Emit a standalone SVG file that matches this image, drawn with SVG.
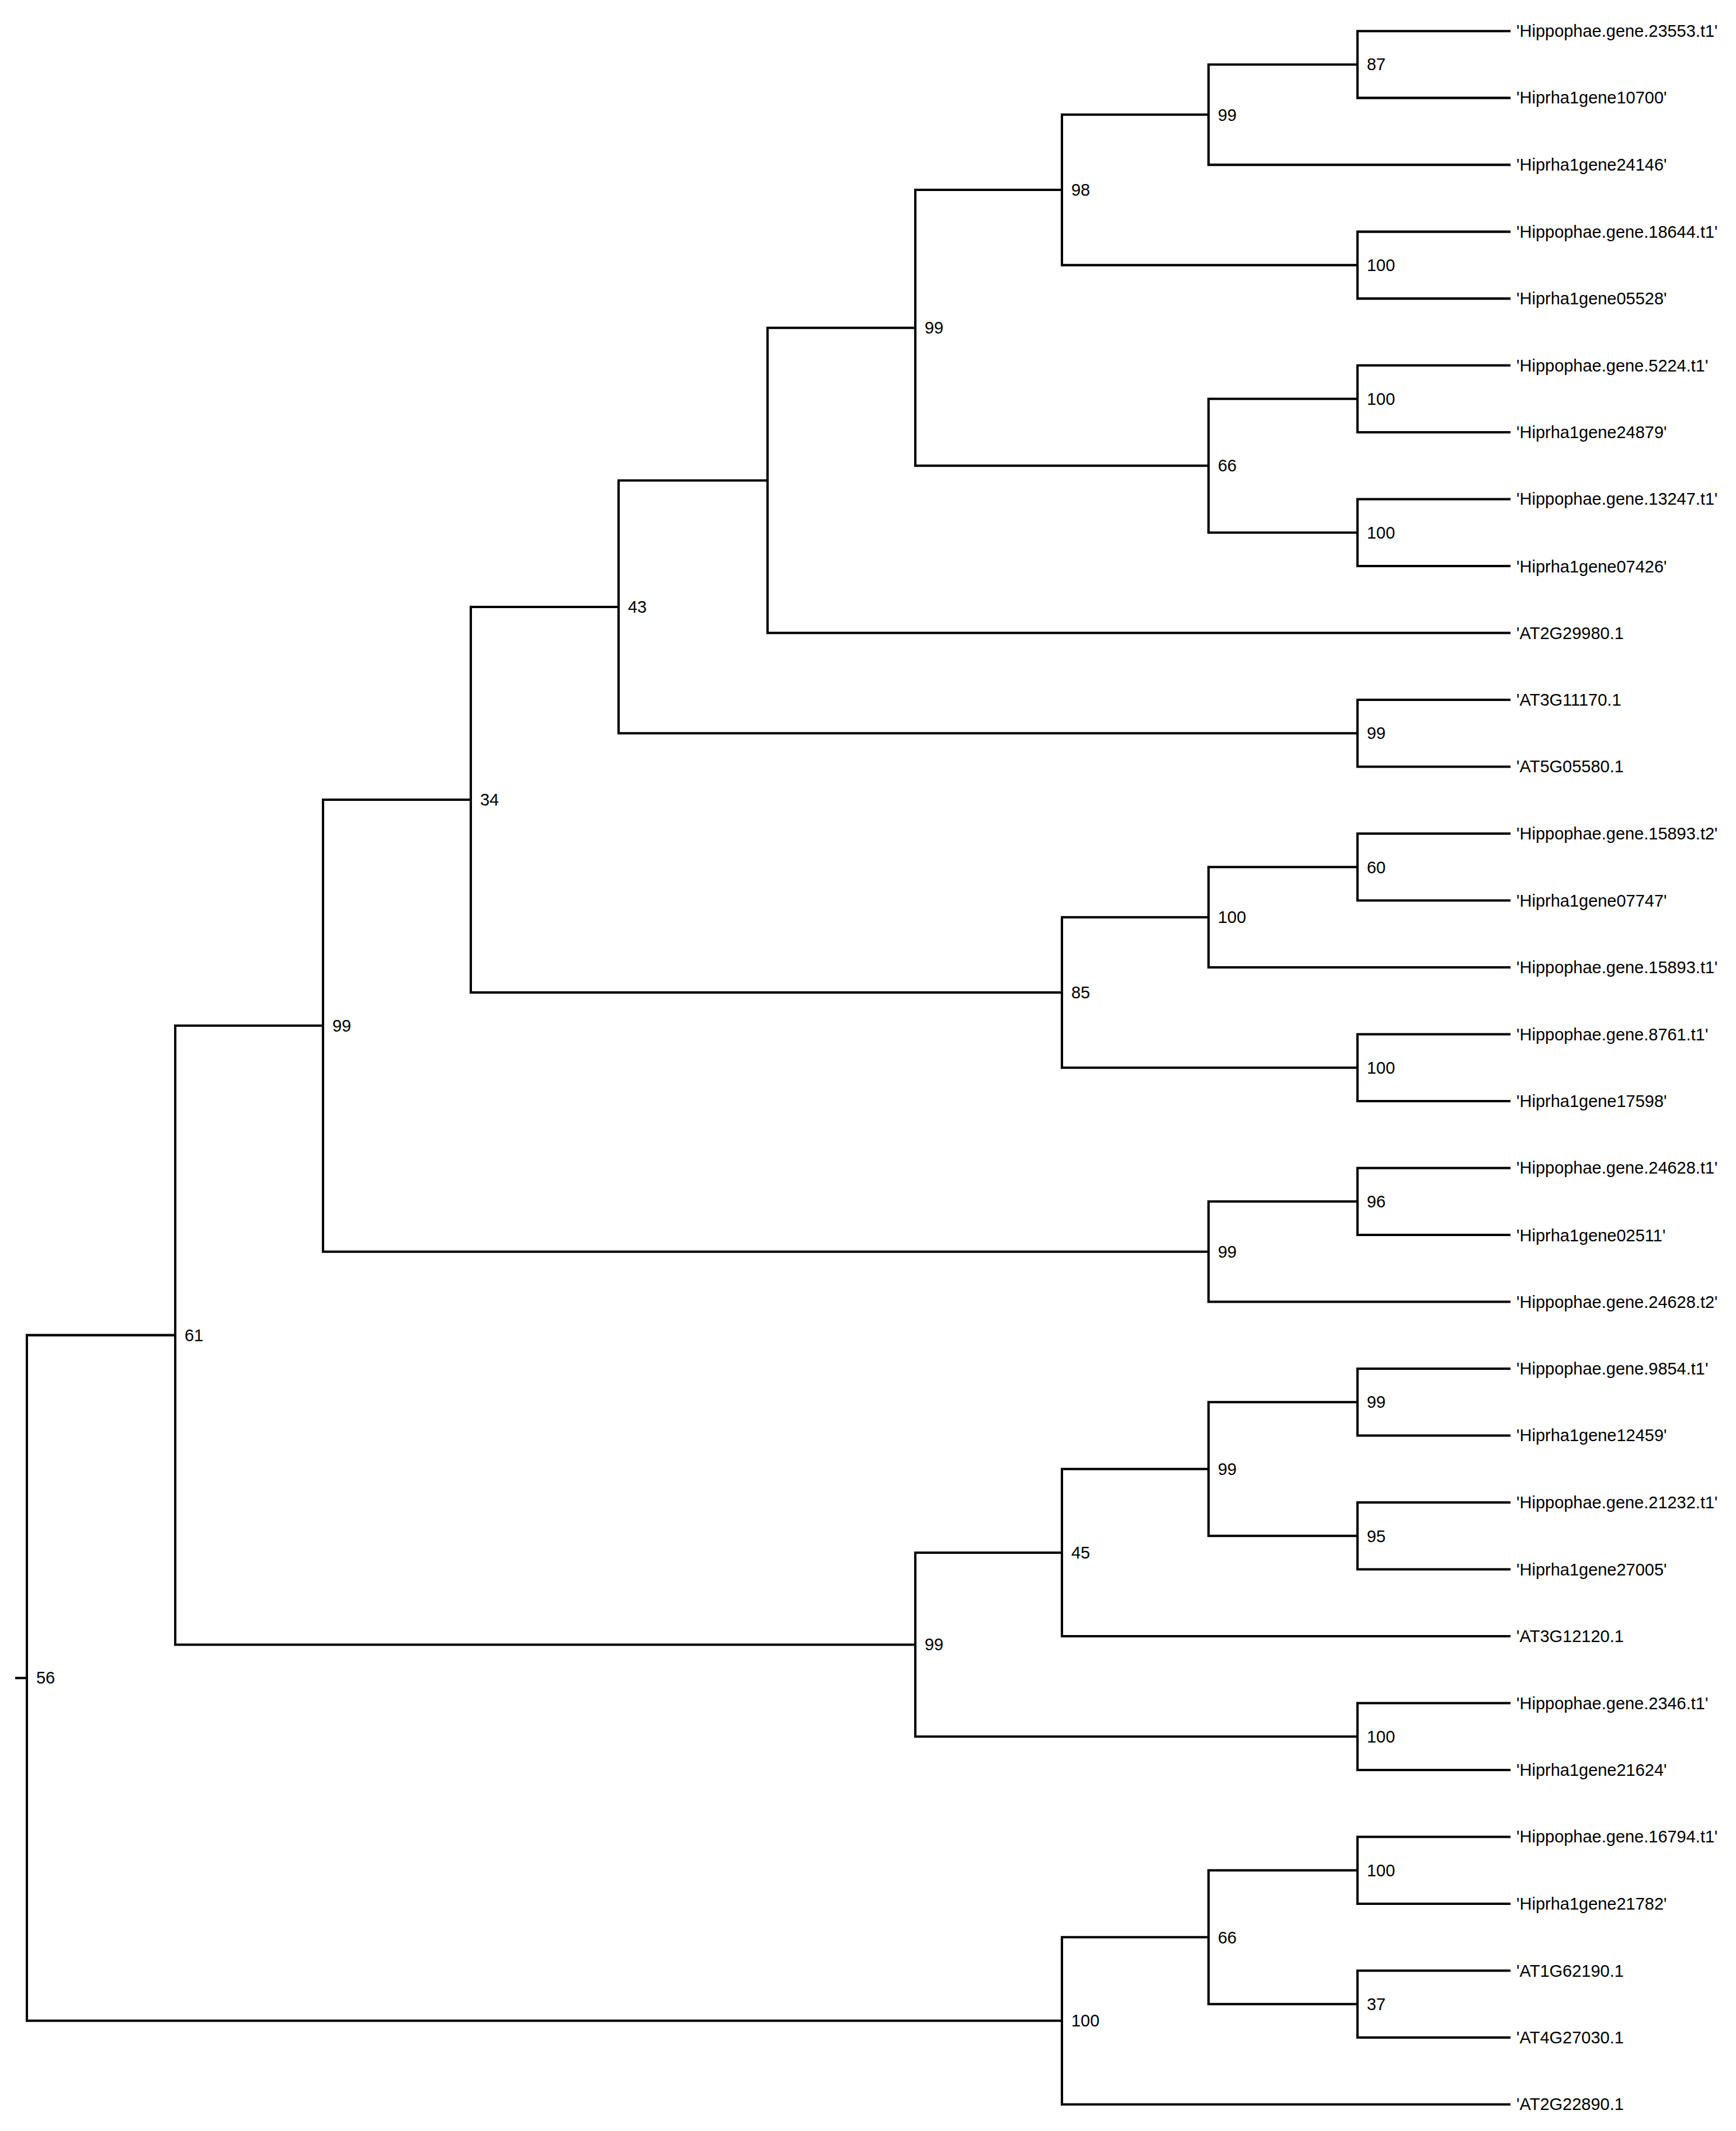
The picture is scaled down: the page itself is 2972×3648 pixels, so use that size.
<svg xmlns="http://www.w3.org/2000/svg" width="2972" height="3648" viewBox="0 0 2972 3648">
<style>
.e{fill:none;stroke:#000;stroke-width:4;stroke-linecap:square}
text{font-family:"Liberation Sans",Arial,sans-serif;font-size:29px;fill:#000}
</style>
<rect width="2972" height="3648" fill="#fff"/>
<g transform="translate(0,2) scale(1,1.0026)">
<g id="connectors">
<path class="e" d="M2584 51H2324V165.2H2584"/>
<path class="e" d="M2324 108.1H2069V279.4H2584"/>
<path class="e" d="M2584 393.6H2324V507.8H2584"/>
<path class="e" d="M2069 193.75H1818V450.7H2324"/>
<path class="e" d="M2584 622H2324V736.2H2584"/>
<path class="e" d="M2584 850.4H2324V964.6H2584"/>
<path class="e" d="M2324 679.1H2069V907.5H2324"/>
<path class="e" d="M1818 322.2H1567V793.3H2069"/>
<path class="e" d="M1567 557.8H1314V1078.8H2584"/>
<path class="e" d="M2584 1193H2324V1307.2H2584"/>
<path class="e" d="M1314 818.3H1059V1250.1H2324"/>
<path class="e" d="M2584 1421.4H2324V1535.6H2584"/>
<path class="e" d="M2324 1478.5H2069V1649.8H2584"/>
<path class="e" d="M2584 1764H2324V1878.2H2584"/>
<path class="e" d="M2069 1564.2H1818V1821.1H2324"/>
<path class="e" d="M1059 1034.2H806V1692.6H1818"/>
<path class="e" d="M2584 1992.4H2324V2106.6H2584"/>
<path class="e" d="M2324 2049.5H2069V2220.8H2584"/>
<path class="e" d="M806 1363.4H553V2135.2H2069"/>
<path class="e" d="M2584 2335H2324V2449.2H2584"/>
<path class="e" d="M2584 2563.4H2324V2677.6H2584"/>
<path class="e" d="M2324 2392.1H2069V2620.5H2324"/>
<path class="e" d="M2069 2506.3H1818V2791.8H2584"/>
<path class="e" d="M2584 2906H2324V3020.2H2584"/>
<path class="e" d="M1818 2649H1567V2963.1H2324"/>
<path class="e" d="M553 1749.3H300V2806.1H1567"/>
<path class="e" d="M2584 3134.4H2324V3248.6H2584"/>
<path class="e" d="M2584 3362.8H2324V3477H2584"/>
<path class="e" d="M2324 3191.5H2069V3419.9H2324"/>
<path class="e" d="M2069 3305.7H1818V3591.2H2584"/>
<path class="e" d="M300 2277.7H46V3448.4H1818"/>
<path class="e" d="M28 2863.1H46"/>
</g>
<g id="leaves">
<text x="2596" y="61">'Hippophae.gene.23553.t1'</text>
<text x="2596" y="175">'Hiprha1gene10700'</text>
<text x="2596" y="289">'Hiprha1gene24146'</text>
<text x="2596" y="404">'Hippophae.gene.18644.t1'</text>
<text x="2596" y="518">'Hiprha1gene05528'</text>
<text x="2596" y="632">'Hippophae.gene.5224.t1'</text>
<text x="2596" y="746">'Hiprha1gene24879'</text>
<text x="2596" y="860">'Hippophae.gene.13247.t1'</text>
<text x="2596" y="975">'Hiprha1gene07426'</text>
<text x="2596" y="1089">'AT2G29980.1</text>
<text x="2596" y="1203">'AT3G11170.1</text>
<text x="2596" y="1317">'AT5G05580.1</text>
<text x="2596" y="1431">'Hippophae.gene.15893.t2'</text>
<text x="2596" y="1546">'Hiprha1gene07747'</text>
<text x="2596" y="1660">'Hippophae.gene.15893.t1'</text>
<text x="2596" y="1774">'Hippophae.gene.8761.t1'</text>
<text x="2596" y="1888">'Hiprha1gene17598'</text>
<text x="2596" y="2002">'Hippophae.gene.24628.t1'</text>
<text x="2596" y="2117">'Hiprha1gene02511'</text>
<text x="2596" y="2231">'Hippophae.gene.24628.t2'</text>
<text x="2596" y="2345">'Hippophae.gene.9854.t1'</text>
<text x="2596" y="2459">'Hiprha1gene12459'</text>
<text x="2596" y="2573">'Hippophae.gene.21232.t1'</text>
<text x="2596" y="2688">'Hiprha1gene27005'</text>
<text x="2596" y="2802">'AT3G12120.1</text>
<text x="2596" y="2916">'Hippophae.gene.2346.t1'</text>
<text x="2596" y="3030">'Hiprha1gene21624'</text>
<text x="2596" y="3144">'Hippophae.gene.16794.t1'</text>
<text x="2596" y="3259">'Hiprha1gene21782'</text>
<text x="2596" y="3373">'AT1G62190.1</text>
<text x="2596" y="3487">'AT4G27030.1</text>
<text x="2596" y="3601">'AT2G22890.1</text>
</g>
<g id="support">
<text x="2340" y="118">87</text>
<text x="2085" y="204">99</text>
<text x="2340" y="461">100</text>
<text x="1834" y="332">98</text>
<text x="2340" y="689">100</text>
<text x="2340" y="918">100</text>
<text x="2085" y="803">66</text>
<text x="1583" y="568">99</text>
<text x="2340" y="1260">99</text>
<text x="1075" y="1044">43</text>
<text x="2340" y="1489">60</text>
<text x="2085" y="1574">100</text>
<text x="2340" y="1831">100</text>
<text x="1834" y="1703">85</text>
<text x="822" y="1373">34</text>
<text x="2340" y="2060">96</text>
<text x="2085" y="2145">99</text>
<text x="569" y="1759">99</text>
<text x="2340" y="2402">99</text>
<text x="2340" y="2631">95</text>
<text x="2085" y="2516">99</text>
<text x="1834" y="2659">45</text>
<text x="2340" y="2973">100</text>
<text x="1583" y="2816">99</text>
<text x="316" y="2288">61</text>
<text x="2340" y="3202">100</text>
<text x="2340" y="3430">37</text>
<text x="2085" y="3316">66</text>
<text x="1834" y="3458">100</text>
<text x="62" y="2873">56</text>
</g>
</g>
</svg>
